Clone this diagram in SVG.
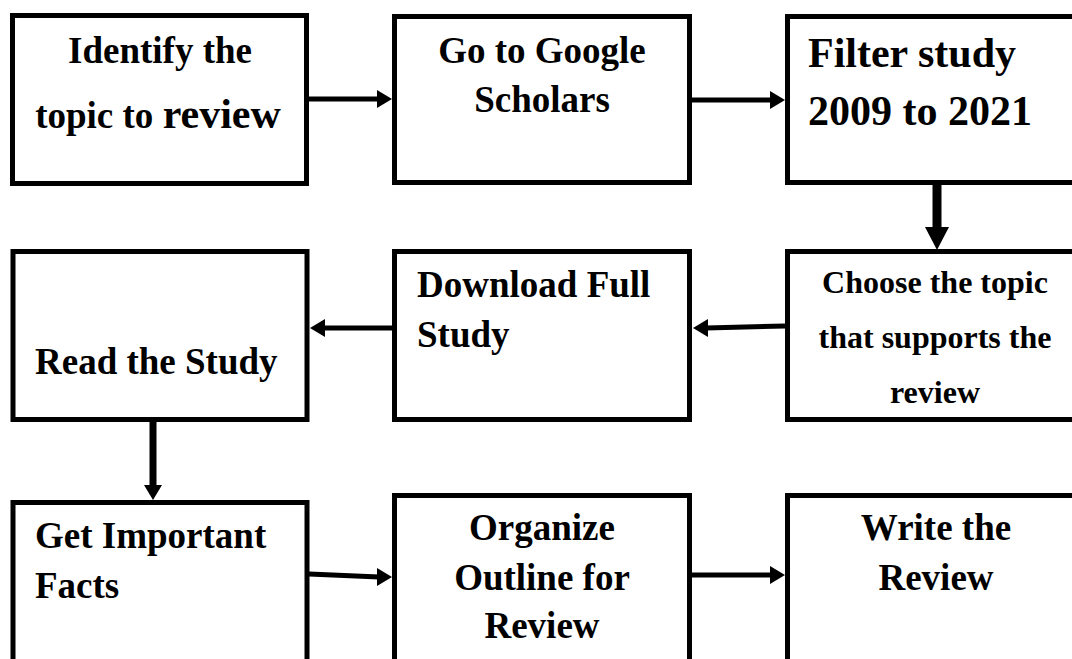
<svg xmlns="http://www.w3.org/2000/svg" width="1072" height="659" viewBox="0 0 1072 659">
<style>
.box{fill:#fff;stroke:#000;stroke-width:5}
.t{font-family:"Liberation Serif","Times New Roman",serif;font-weight:bold;fill:#000}
.m{font-size:37px}
.l{font-size:42px}
.s{font-size:32px}
.c{text-anchor:middle}
.ln{stroke:#000;stroke-width:5;fill:none}
.hd{fill:#000;stroke:none}
</style>
<rect width="1072" height="659" fill="#fff"/>
<g id="n1"><rect class="box" x="12.5" y="15.5" width="294" height="168"/>
<text class="t m c" x="160" y="63">Identify the</text>
<text class="t m c" x="158" y="128">topic to <tspan class="l">review</tspan></text></g>
<g id="n2"><rect class="box" x="394.5" y="16.5" width="295" height="166"/>
<text class="t m c" x="542" y="63">Go to Google</text>
<text class="t m c" x="542" y="112">Scholars</text></g>
<g id="n3"><rect class="box" x="787.5" y="16.5" width="300" height="166"/>
<text class="t l" x="808" y="67">Filter study</text>
<text class="t l" x="808" y="125">2009 to 2021</text></g>
<g id="n4"><rect class="box" x="13" y="251.5" width="294" height="168"/>
<text class="t m" x="35" y="374">Read the Study</text></g>
<g id="n5"><rect class="box" x="394.5" y="251.5" width="295" height="168"/>
<text class="t m" x="417" y="297">Download Full</text>
<text class="t m" x="417" y="347">Study</text></g>
<g id="n6"><rect class="box" x="787.5" y="251.5" width="300" height="168"/>
<text class="t s c" x="935" y="293">Choose the topic</text>
<text class="t s c" x="935" y="348">that supports the</text>
<text class="t s c" x="935" y="403">review</text></g>
<g id="n7"><rect class="box" x="13" y="502.5" width="294" height="200"/>
<text class="t m" x="35" y="548">Get Important</text>
<text class="t m" x="35" y="598">Facts</text></g>
<g id="n8"><rect class="box" x="394.5" y="495.5" width="295" height="200"/>
<text class="t m c" x="542" y="540">Organize</text>
<text class="t m c" x="542" y="590">Outline for</text>
<text class="t m c" x="542" y="638">Review</text></g>
<g id="n9"><rect class="box" x="787.5" y="495.5" width="300" height="200"/>
<text class="t m c" x="936" y="540">Write the</text>
<text class="t m c" x="936" y="590">Review</text></g>
<g id="connectors">
<line class="ln" x1="309" y1="99" x2="379" y2="99"/><polygon class="hd" points="377,90 392,99 377,108"/>
<line class="ln" x1="692" y1="100" x2="772" y2="100"/><polygon class="hd" points="770,91 785,100 770,109"/>
<line class="ln" x1="937" y1="185" x2="937" y2="229" style="stroke-width:9"/><polygon class="hd" points="925,227 937,250 949,227"/>
<line class="ln" x1="785" y1="326" x2="706" y2="328"/><polygon class="hd" points="708,319 693,328 708,337"/>
<line class="ln" x1="392" y1="328" x2="323" y2="328"/><polygon class="hd" points="325,319 310,328 325,337"/>
<line class="ln" x1="153" y1="421" x2="153" y2="487" style="stroke-width:7"/><polygon class="hd" points="144,485 153,500 162,485"/>
<line class="ln" x1="309" y1="574" x2="379" y2="577"/><polygon class="hd" points="377,568 392,577 377,586"/>
<line class="ln" x1="692" y1="575" x2="772" y2="575"/><polygon class="hd" points="770,566 785,575 770,584"/>
</g>
</svg>
